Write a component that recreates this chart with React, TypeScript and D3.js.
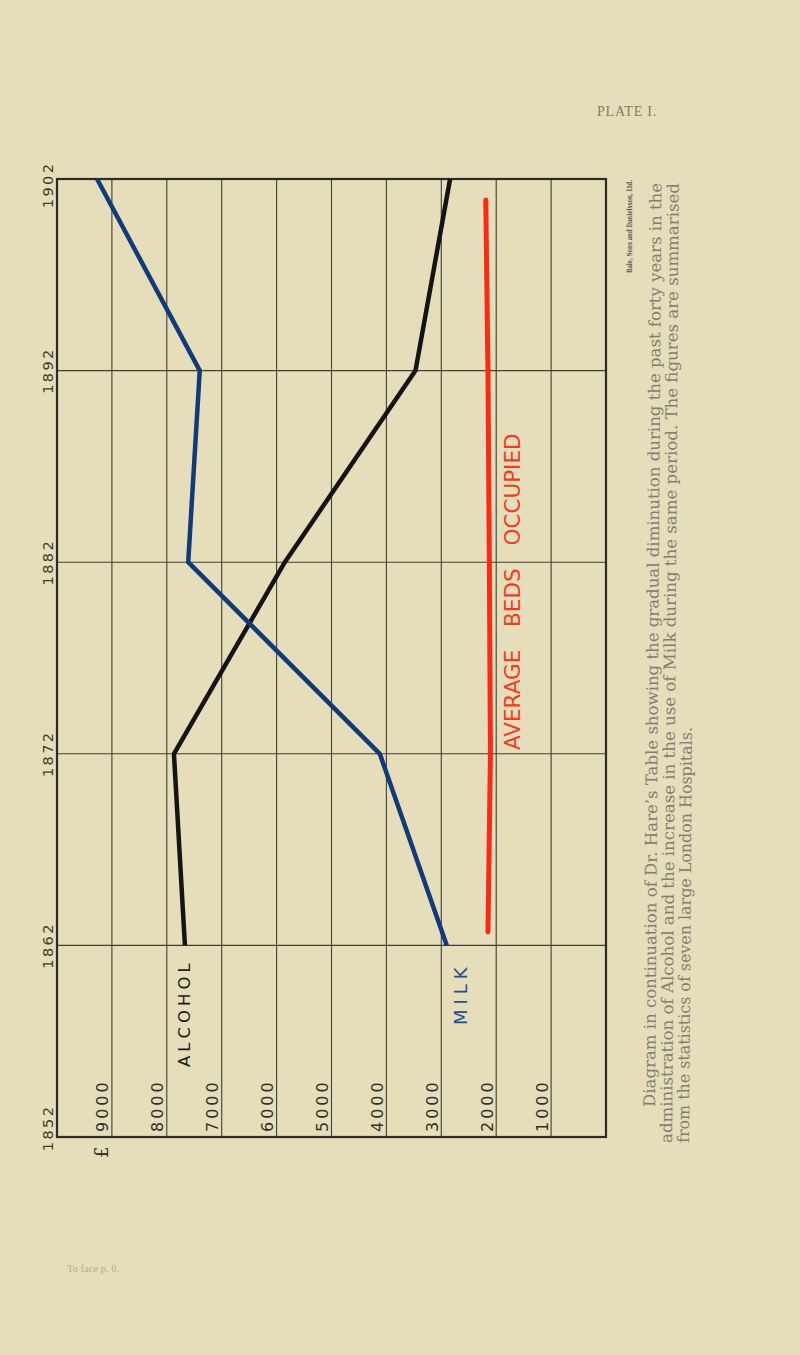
import React from 'react';
import * as d3 from 'd3';

// ---- data ----
const years = [1852, 1862, 1872, 1882, 1892, 1902];
const gridValues = [10000, 9000, 8000, 7000, 6000, 5000, 4000, 3000, 2000, 1000, 0];
const tickValues = [9000, 8000, 7000, 6000, 5000, 4000, 3000, 2000, 1000];
const tickLabels = ['9000', '8000', '7000', '6000', '5000', '4000', '3000', '2000', '1000'];

const alcoholYears = [1862, 1872, 1882, 1892, 1902];
const alcoholValues = [7670, 7870, 5850, 3470, 2840];

const milkYears = [1862, 1872, 1882, 1892, 1902];
const milkValues = [2900, 4120, 7610, 7400, 9270];

const bedsYears = [1862.7, 1872, 1882, 1892, 1900.9];
const bedsValues = [2150, 2105, 2125, 2150, 2190];

const captionLines = [
  "Diagram in continuation of Dr. Hare\u2019s Table showing the gradual diminution during the past forty years in the",
  "administration of Alcohol and the increase in the use of Milk during the same period.  The figures are summarised",
  "from the statistics of seven large London Hospitals.",
];

const BG = '#e6ddbb';
const GRID = '#3d4232';
const BLUE = '#0f3a7c';
const BLACK = '#141414';
const RED = '#fb2a12';

export default function App() {
  const x = d3.scaleLinear().domain([10000, 0]).range([57, 606]);
  const y = d3.scaleLinear().domain([1852, 1902]).range([1137, 179]);

  const line = d3
    .line<[number, number]>()
    .x((d) => x(d[1]))
    .y((d) => y(d[0]));

  const alcohol = alcoholYears.map((yr, i) => [yr, alcoholValues[i]] as [number, number]);
  const milk = milkYears.map((yr, i) => [yr, milkValues[i]] as [number, number]);
  const beds = bedsYears.map((yr, i) => [yr, bedsValues[i]] as [number, number]);

  const x0 = x(10000);
  const x1 = x(0);
  const yTop = y(1902);
  const yBot = y(1852);

  const rot = (px: number, py: number, a = -90) => `translate(${px},${py}) rotate(${a})`;
  const labelY = (yr: number) => Math.max(yTop + 6, Math.min(yBot - 9, y(yr)));

  const captionStarts = [
    { bx: 655, by: 1107, len: 924 },
    { bx: 672, by: 1143, len: 960 },
    { bx: 689, by: 1143, len: 416 },
  ];

  return (
    <svg
      width={800}
      height={1355}
      style={{ position: 'absolute', left: 0, top: 0, display: 'block' }}
      xmlns="http://www.w3.org/2000/svg"
    >
      <rect x={0} y={0} width={800} height={1355} fill={BG} />

      {/* grid */}
      <g stroke={GRID} fill="none">
        {gridValues.map((v) => (
          <line key={'v' + v} x1={x(v)} x2={x(v)} y1={yTop} y2={yBot} strokeWidth={1.1} />
        ))}
        {years.map((yr) => (
          <line key={'h' + yr} x1={x0} x2={x1} y1={y(yr)} y2={y(yr)} strokeWidth={1.1} />
        ))}
        <rect x={x0} y={yTop} width={x1 - x0} height={yBot - yTop} strokeWidth={2.2} stroke="#2a2e22" />
      </g>

      {/* year labels */}
      <g fontFamily="DejaVu Sans" fontSize={14.5} fill="#3a3d30" letterSpacing={2.4}>
        {years.map((yr) => (
          <text key={'yl' + yr} transform={rot(52.5, labelY(yr))} textAnchor="middle">
            {String(yr)}
          </text>
        ))}
      </g>

      {/* amount labels */}
      <g fontFamily="DejaVu Sans" fontSize={16} fill="#2e3128" letterSpacing={3}>
        {tickValues.map((v, i) => (
          <text key={'tl' + v} transform={rot(x(v) - 3.5, 1132)} textAnchor="start">
            {tickLabels[i]}
          </text>
        ))}
      </g>

      {/* pound sign */}
      <text transform={rot(108, 1158)} fontFamily="DejaVu Serif" fontSize={18} fill="#2a2a22">
        £
      </text>

      {/* series */}
      <path d={line(beds) || ''} fill="none" stroke={RED} strokeWidth={5} strokeLinecap="round" />
      <path d={line(alcohol) || ''} fill="none" stroke={BLACK} strokeWidth={4.5} strokeLinejoin="round" />
      <path d={line(milk) || ''} fill="none" stroke={BLUE} strokeWidth={4.5} strokeLinejoin="round" />

      {/* series labels */}
      <text transform={rot(190, 1067)} fontFamily="DejaVu Sans" fontSize={16.5} letterSpacing={4} fill="#1c1c1a">
        ALCOHOL
      </text>
      <text transform={rot(467, 1025)} fontFamily="DejaVu Sans" fontSize={18} letterSpacing={5} fill="#24508f">
        MILK
      </text>
      <text transform={rot(520, 750)} fontFamily="DejaVu Sans" fontSize={21.5} fill="#f23c22" wordSpacing={16}>
        AVERAGE BEDS OCCUPIED
      </text>

      {/* header / footer */}
      <text x={597} y={116} fontFamily="Liberation Serif" fontSize={14} letterSpacing={0.8} fill="#7b806a">
        PLATE I.
      </text>
      <text x={67} y={1272} fontFamily="Liberation Serif" fontSize={10.5} fill="#b5ad8c">
        To face p. 6.
      </text>

      {/* printer */}
      <text
        transform={rot(632, 273)}
        fontFamily="DejaVu Serif"
        fontWeight="bold"
        fontSize={7.5}
        fill="#5c5c50"
        textLength={93}
        lengthAdjust="spacingAndGlyphs"
      >
        Bale, Sons and Danielsson, Ltd.
      </text>

      {/* caption */}
      <g fontFamily="DejaVu Serif" fontSize={16.2} fill="#7f8072">
        {captionLines.map((t, i) => (
          <text
            key={'cap' + i}
            transform={rot(captionStarts[i].bx, captionStarts[i].by, -89.6)}
            textLength={captionStarts[i].len}
            lengthAdjust="spacingAndGlyphs"
          >
            {t}
          </text>
        ))}
      </g>
    </svg>
  );
}
